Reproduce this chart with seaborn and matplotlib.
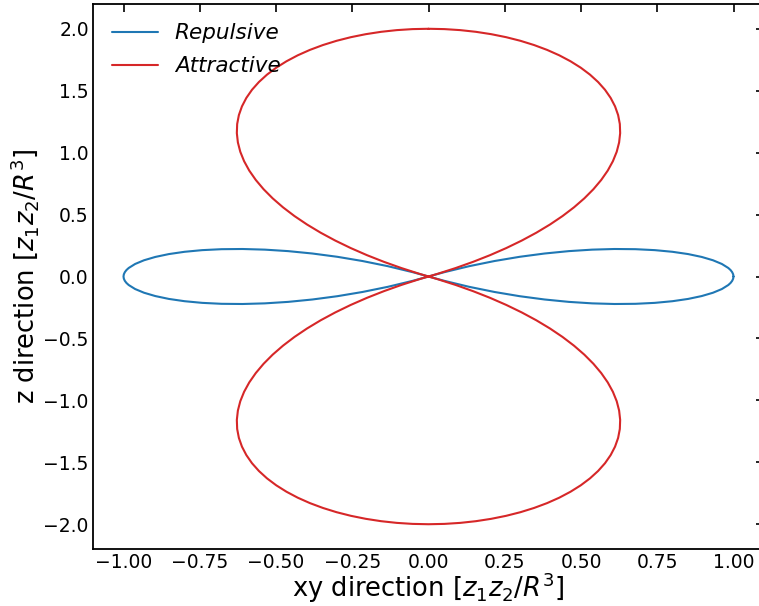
import numpy as np
import pandas as pd
import matplotlib
matplotlib.use("Agg")
import matplotlib.pyplot as plt
import seaborn as sns
from matplotlib.ticker import MultipleLocator

# First-quadrant points of each lobe (x, z)
rep_x = [1.0, 0.9989, 0.9957, 0.9904, 0.9830, 0.9619, 0.9327, 0.8957, 0.8513, 0.7999,
         0.7422, 0.6786, 0.6099, 0.5368, 0.4601, 0.3806, 0.2991, 0.2165, 0.1336, 0.0513, 0.0]
rep_z = [0.0, 0.0174, 0.0348, 0.0519, 0.0687, 0.1011, 0.1311, 0.1579, 0.1810, 0.1994,
         0.2128, 0.2205, 0.2220, 0.2169, 0.2049, 0.1856, 0.1591, 0.1250, 0.0835, 0.0346, 0.0]

att_x = [0.0, 0.0523, 0.1042, 0.1555, 0.2056, 0.2544, 0.3014, 0.3463, 0.3889, 0.4287,
         0.4656, 0.4993, 0.5295, 0.5560, 0.5787, 0.5972, 0.6116, 0.6217, 0.6273, 0.6284,
         0.6250, 0.6171, 0.6046, 0.5877, 0.5663, 0.5407, 0.5109, 0.4771, 0.4395, 0.3982,
         0.3536, 0.3057, 0.2551, 0.2018, 0.1462, 0.0887, 0.0295, 0.0]
att_z = [2.0, 1.9973, 1.9891, 1.9754, 1.9564, 1.9322, 1.9029, 1.8685, 1.8294, 1.7858,
         1.7377, 1.6856, 1.6297, 1.5702, 1.5075, 1.4419, 1.3737, 1.3033, 1.2311, 1.1574,
         1.0825, 1.0070, 0.9310, 0.8551, 0.7795, 0.7047, 0.6309, 0.5586, 0.4881, 0.4196,
         0.3536, 0.2901, 0.2297, 0.1723, 0.1184, 0.0680, 0.0214, 0.0]

labels = ["Repulsive", "Attractive"]
colors = ["#1f77b4", "#d62728"]


def build(qx, qz, kind):
    """Join the four mirrored copies of a quadrant path (start -> origin)."""
    qx = np.asarray(qx); qz = np.asarray(qz)
    if kind == "rep":
        xs = [qx, -qx[::-1], -qx, qx[::-1]]
        zs = [qz, -qz[::-1], qz, -qz[::-1]]
    else:
        xs = [qx, -qx[::-1], qx, -qx[::-1]]
        zs = [qz, -qz[::-1], -qz, qz[::-1]]
    return np.concatenate(xs), np.concatenate(zs)


rx, rz = build(rep_x, rep_z, "rep")
axx, azz = build(att_x, att_z, "att")

df = pd.concat([
    pd.DataFrame({"x": rx, "z": rz, "kind": labels[0]}),
    pd.DataFrame({"x": axx, "z": azz, "kind": labels[1]}),
])

sns.set_style("white")
plt.rcParams["font.family"] = ["DejaVu Sans"]
plt.rcParams["mathtext.fontset"] = "dejavusans"
plt.rcParams["text.color"] = "black"
plt.rcParams["axes.labelcolor"] = "black"
plt.rcParams["xtick.color"] = "black"
plt.rcParams["ytick.color"] = "black"

fig = plt.figure(figsize=(7.59, 6.06), dpi=100)
ax = fig.add_axes([93 / 759, 57 / 606, 671 / 759, 545 / 606])

for lab, col in zip(labels, colors):
    sub = df[df["kind"] == lab]
    sns.lineplot(data=sub, x="x", y="z", sort=False, estimator=None, color=col,
                 linewidth=1.5, label=lab, ax=ax)

ax.set_xlim(-1.1, 1.1)
ax.set_ylim(-2.2, 2.2)
ax.xaxis.set_major_locator(MultipleLocator(0.25))
ax.yaxis.set_major_locator(MultipleLocator(0.5))
ax.yaxis.set_minor_locator(MultipleLocator(0.25))
ax.tick_params(which="both", direction="in", top=True, right=True, labelsize=13.5, pad=3)
ax.tick_params(which="major", length=6, width=1.2)
ax.tick_params(which="minor", length=3, width=1.0)
for s in ax.spines.values():
    s.set_color("black")
    s.set_linewidth(1.3)

ax.set_xlabel(r"xy direction [$z_1z_2/R^3$]", fontsize=18.5, labelpad=-1)
ax.set_ylabel(r"z direction [$z_1z_2/R^3$]", fontsize=18.5, labelpad=2)

leg = ax.legend(loc="upper left", frameon=False, fontsize=15.5, handlelength=2.1,
                borderaxespad=0.5, labelspacing=0.6)
for t in leg.get_texts():
    t.set_fontstyle("italic")

fig.savefig("out.png", dpi=100)
